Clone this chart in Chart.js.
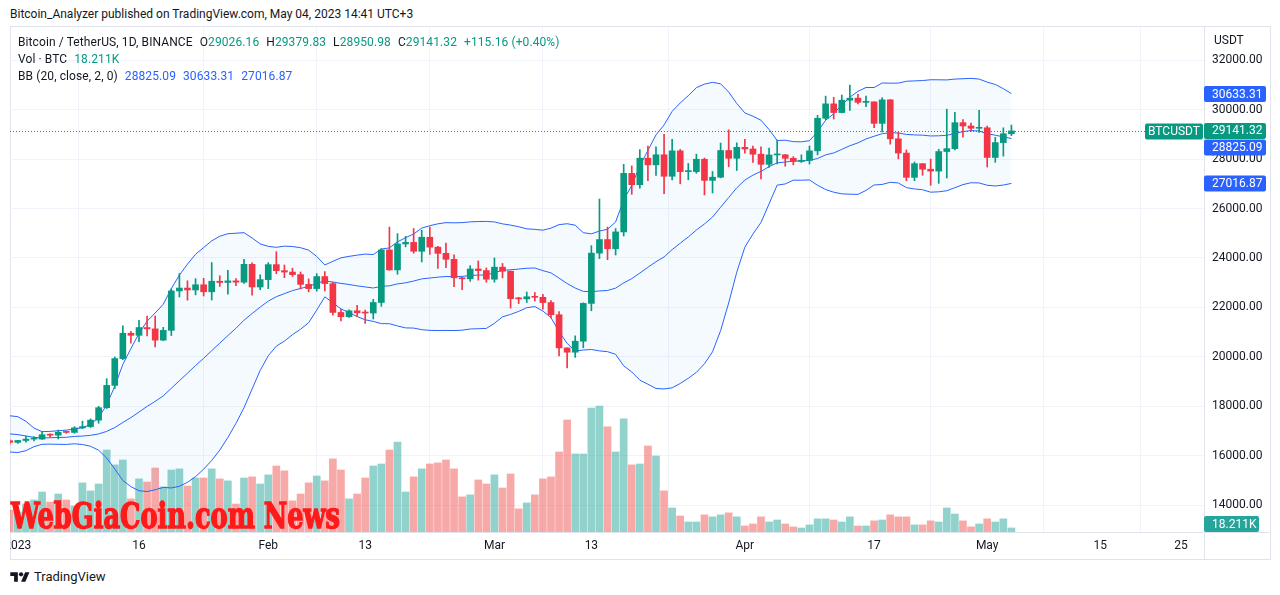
<!DOCTYPE html>
<html>
<head>
<meta charset="utf-8">
<script src="https://cdn.jsdelivr.net/npm/chart.js@4.4.1/dist/chart.umd.min.js"></script>
<style>
  body { margin: 0; width: 1280px; height: 595px; background: #fff; position: relative; overflow: hidden;
         font-family: Roboto, "Noto Sans", sans-serif; color: #131722; }
  #hdr { position: absolute; left: 10px; top: 6px; font-size: 12px; line-height: 16px; white-space: nowrap; }
  #frame { position: absolute; left: 10px; top: 26px; width: 1259px; height: 532px; border: 1px solid #E0E3EB; }
  #wrap { position: absolute; left: 10px; top: 27px; width: 1260px; height: 532px; }
  .lg { position: absolute; left: 18px; font-size: 12px; line-height: 14px; white-space: nowrap; letter-spacing: 0.1px; }
  .lg span { margin-left: 7px; }
  .lg span:first-child { margin-left: 0; }
  .lg b { font-weight: normal; }
  .g { color: #089981; }
  .b { color: #2962FF; }
  #wm { position: absolute; left: 10px; top: 496px; }
  #tv { position: absolute; left: 10px; top: 569px; font-size: 13px; line-height: 16px; display: flex; align-items: center; }
  #tv svg { margin-right: 4px; }
</style>
</head>
<body>
<div id="hdr">Bitcoin_Analyzer published on TradingView.com, May 04, 2023 14:41 UTC+3</div>
<div id="frame"></div>
<div id="wrap"><canvas id="c" width="1260" height="532"></canvas></div>

<div class="lg" style="top:35px">
  <span>Bitcoin / TetherUS, 1D, BINANCE</span><span>O<b class="g">29026.16</b></span><span>H<b class="g">29379.83</b></span><span>L<b class="g">28950.98</b></span><span>C<b class="g">29141.32</b></span><span class="g">+115.16 (+0.40%)</span>
</div>
<div class="lg" style="top:52px"><span>Vol · BTC</span><span class="g">18.211K</span></div>
<div class="lg" style="top:69px"><span>BB (20, close, 2, 0)</span><span class="b">28825.09</span><span class="b">30633.31</span><span class="b">27016.87</span></div>

<svg id="wm" width="334" height="40">
  <text x="1" y="32" textLength="329" lengthAdjust="spacingAndGlyphs" fill="#FF1A1A" stroke="#FF1A1A" stroke-width="1.4"
        style="font-family:'DejaVu Serif Condensed','DejaVu Serif',serif;font-weight:bold;font-size:35px">WebGiaCoin.com News</text>
</svg>

<div id="tv">
  <svg width="20" height="14" viewBox="0 0 36 26"><path d="M14 22H7V11H0V4h14v18z" fill="#131722"/><circle cx="20" cy="8" r="4" fill="#131722"/><path d="M28 22h-8l7.5-18h8L28 22z" fill="#131722"/></svg>
  <span>TradingView</span>
</div>

<script>
// daily candles from 2022-12-31 to 2023-05-04, BTCUSDT Binance
const firstDate = Date.UTC(2022, 11, 31);
const dayZero = Date.UTC(2023, 0, 1);

const openP = [16607,
  16542,16617,16673,16674,16852,16832,16950,16944,17127,17179,17440,17944,18847,19930,20955,20872,21186,21133,20677,21072,22667,22784,22707,22917,22633,23060,23010,23075,23023,23743,22827,
  23125,23732,23489,23431,23327,22933,22763,23249,22964,21797,21626,21863,21783,21773,22200,24325,23518,24569,24631,24272,24839,24439,24188,23947,23198,23158,23555,23492,
  23141,23628,23466,22354,22347,22430,22410,22197,21705,20363,20188,20633,22163,24197,24746,24375,25055,27423,26965,28038,27768,28176,27307,28334,27494,27495,27994,27140,27268,28348,28033,
  28478,28411,28199,27790,28169,28175,28033,27906,27948,28334,29653,30236,29884,30384,30466,30297,30316,29446,30398,28822,28245,27263,27817,27591,27515,28307,28423,29474,29340,29248,
  29268,28068,28669,29026.16];
const highP = [16644,
  16628,16799,16779,16990,16884,17041,16999,17176,17398,17490,18000,19117,19997,21258,21030,21474,21647,21650,21192,22755,23372,23078,23165,23180,23816,23282,23500,23165,23950,23800,23320,
  23812,24255,23715,23587,23433,23158,23367,23452,23012,21938,21906,22090,21894,22326,24380,25250,24987,24877,25192,25121,25250,24476,24600,24132,23219,23689,23880,23600,
  24000,23779,23476,22410,22623,22604,22534,22278,21833,20367,20850,22185,24500,26386,25250,25188,27787,27725,28390,28528,28500,29000,28800,28392,27823,28200,28044,27500,28650,29184,28660,
  28805,28530,28500,28444,28775,28190,28100,28173,28530,29770,30550,30500,30595,31000,30619,30549,30320,30485,30412,29090,28374,27884,27820,28000,28399,30020,29892,29599,29460,29969,
  29338,28879,29266,29379.83];
const lowP = [16470,
  16500,16548,16601,16656,16753,16679,16908,16911,17095,17142,17315,17910,18715,19888,20552,20611,20850,20407,20659,20862,22422,22293,22508,22463,22300,22850,22534,22878,22976,22500,22714,
  22760,23363,23204,23253,22745,22628,22658,22665,21688,21451,21599,21631,21352,21531,22047,23505,23340,24450,24192,23840,24148,23574,23608,22841,22722,23059,23106,23020,
  23020,23195,21971,22157,22199,22258,21927,21580,20042,19549,19980,20366,21864,23976,23930,24122,24890,26578,26827,27126,27337,26600,27155,27000,27163,27426,26550,26631,27241,27689,27540,
  28240,27865,27204,27667,27805,27711,27766,27865,27800,28170,29590,29622,29870,29967,30229,30120,29275,29100,28605,28010,27125,27130,27348,26942,27020,27235,28375,28891,29125,29080,
  27680,27872,28120,28950.98];
const closeP = [16542,
  16617,16673,16675,16851,16832,16950,16944,17127,17179,17440,17944,18847,19930,20955,20872,21186,21133,20677,21072,22667,22784,22707,22917,22633,23060,23010,23075,23023,23743,22827,23125,
  23732,23489,23431,23327,22933,22762,23249,22964,21797,21626,21863,21783,21773,22200,24325,23518,24569,24631,24272,24839,24439,24188,23947,23198,23158,23555,23492,23141,
  23628,23466,22354,22347,22430,22410,22197,21705,20363,20188,20633,22163,24197,24746,24375,25055,27423,26965,28038,27768,28176,27307,28334,27494,27495,27994,27140,27268,28348,28033,28478,
  28411,28199,27790,28169,28175,28033,27906,27948,28334,29653,30236,29884,30384,30466,30297,30316,29446,30398,28822,28245,27263,27817,27591,27515,28307,28423,29474,29340,29248,29268,
  28068,28669,29026,29141.32];
// volume in thousands of BTC
const volumeK = [99,
  90,126,144,180,135,171,144,117,221,185,216,369,302,324,149,239,225,288,203,279,284,207,243,243,284,239,230,126,243,248,216,
  257,297,275,140,171,221,252,230,329,279,149,171,243,297,306,369,405,180,248,284,306,311,324,284,158,167,234,216,
  257,198,261,104,131,167,239,248,360,504,351,351,558,567,473,360,509,302,306,387,342,185,108,72,45,45,77,68,77,86,68,
  27,36,68,45,54,36,23,18,32,59,59,54,45,68,27,27,50,54,77,68,68,32,32,50,45,108,81,50,23,36,
  59,45,59,18.211];
// closes 2022-12-11 .. 2022-12-30, needed for the first 20-day bands
const warmupClose = [17092,17206,17775,17803,17356,16633,16776,16739,16439,16906,16817,16830,16779,16837,16832,16919,16707,16547,16633,16608];

const bbLast = [28825.09, 30633.31, 27016.87];   // basis, upper, lower shown in legend
const lastVolK = 18.211;

const xTickDays = [0, 15, 31, 43, 59, 71, 90, 106, 120, 134, 144];
const xTickLabels = ['2023', '16', 'Feb', '13', 'Mar', '13', 'Apr', '17', 'May', '15', '25'];
const priceTicks = [14000, 16000, 18000, 20000, 22000, 24000, 26000, 28000, 30000, 32000];

const upColor = '#089981', downColor = '#F23645', bandColor = '#2962FF';
const FONT = 'Roboto, "Noto Sans", sans-serif';

const days = openP.map((_, i) => (firstDate + i * 86400000 - dayZero) / 86400000);
const isUp = closeP.map((c, i) => c >= openP[i]);

// Bollinger bands (20, close, 2)
const allClose = warmupClose.concat(closeP);
const bbBasis = [], bbUpper = [], bbLower = [];
for (let i = 19; i < allClose.length; i++) {
    const w = allClose.slice(i - 19, i + 1);
    const m = w.reduce((s, v) => s + v, 0) / 20;
    const sd = Math.sqrt(w.reduce((s, v) => s + (v - m) * (v - m), 0) / 20);
    const x = days[0] + (i - warmupClose.length);
    bbBasis.push({ x, y: m });
    bbUpper.push({ x, y: m + 2 * sd });
    bbLower.push({ x, y: m - 2 * sd });
}

function badge(ctx, x, yc, w, color, text, center) {
    ctx.fillStyle = color;
    ctx.beginPath();
    ctx.roundRect(x, yc - 8, w, 16, 2);
    ctx.fill();
    ctx.fillStyle = '#fff';
    ctx.textBaseline = 'middle';
    ctx.textAlign = center ? 'center' : 'left';
    ctx.fillText(text, center ? x + w / 2 : x + 8, yc + 0.5);
}

const overlay = {
    id: 'overlay',
    afterDraw(chart) {
        const { ctx, chartArea: a, scales: { y, yv } } = chart;
        ctx.save();
        ctx.font = '12px ' + FONT;
        // axis separators running into the corner
        ctx.strokeStyle = '#E0E3EB';
        ctx.lineWidth = 1;
        ctx.beginPath();
        ctx.moveTo(a.right + 0.5, a.top);
        ctx.lineTo(a.right + 0.5, chart.height);
        ctx.moveTo(a.right, a.bottom + 0.5);
        ctx.lineTo(chart.width, a.bottom + 0.5);
        ctx.stroke();

        // last price dotted line
        const last = closeP[closeP.length - 1];
        const py = Math.round(y.getPixelForValue(last)) + 0.5;
        ctx.strokeStyle = upColor;
        ctx.setLineDash([1, 2]);
        ctx.beginPath();
        ctx.moveTo(a.left, py);
        ctx.lineTo(a.right, py);
        ctx.stroke();
        ctx.setLineDash([]);

        // unit label
        ctx.fillStyle = '#131722';
        ctx.textBaseline = 'middle';
        ctx.textAlign = 'left';
        ctx.fillText('USDT', a.right + 10, 14);

        // price badges, pushed apart so they don't overlap
        const items = [
            { v: bbLast[1], c: bandColor },
            { v: last, c: upColor },
            { v: bbLast[0], c: bandColor },
            { v: bbLast[2], c: bandColor }
        ].map(o => ({ ...o, y: y.getPixelForValue(o.v) })).sort((p, q) => p.y - q.y);
        for (let i = 1; i < items.length; i++) {
            if (items[i].y - items[i - 1].y < 16.6) items[i].y = items[i - 1].y + 16.6;
        }
        items.forEach(o => badge(ctx, a.right, o.y, 62, o.c, o.v.toFixed(2)));
        badge(ctx, a.right - 59, py, 58, upColor, 'BTCUSDT', true);

        // volume badge
        const vy = Math.min(yv.getPixelForValue(lastVolK), a.bottom - 8);
        badge(ctx, a.right, vy, 55, '#26A69A', lastVolK.toFixed(3) + 'K');
        ctx.restore();
    }
};

Chart.defaults.font.family = FONT;

new Chart(document.getElementById('c'), {
    type: 'bar',
    data: {
        datasets: [
            {
                type: 'bar',
                data: days.map((d, i) => ({ x: d, y: [openP[i], closeP[i]] })),
                backgroundColor: isUp.map(u => u ? upColor : downColor),
                barThickness: 6,
                minBarLength: 1,
                grouped: false,
                yAxisID: 'y',
                order: 0
            },
            {
                type: 'bar',
                data: days.map((d, i) => ({ x: d, y: [lowP[i], highP[i]] })),
                backgroundColor: isUp.map(u => u ? upColor : downColor),
                barThickness: 1,
                grouped: false,
                yAxisID: 'y',
                order: 1
            },
            {
                type: 'line',
                data: bbUpper,
                borderColor: bandColor,
                borderWidth: 1,
                pointRadius: 0,
                tension: 0,
                fill: '+1',
                backgroundColor: 'rgba(33, 150, 243, 0.05)',
                yAxisID: 'y',
                order: 2
            },
            {
                type: 'line',
                data: bbLower,
                borderColor: bandColor,
                borderWidth: 1,
                pointRadius: 0,
                tension: 0,
                fill: false,
                yAxisID: 'y',
                order: 3
            },
            {
                type: 'line',
                data: bbBasis,
                borderColor: bandColor,
                borderWidth: 1,
                pointRadius: 0,
                tension: 0,
                fill: false,
                yAxisID: 'y',
                order: 4
            },
            {
                type: 'bar',
                data: days.map((d, i) => ({ x: d, y: volumeK[i] })),
                backgroundColor: isUp.map(u => u ? 'rgba(38, 166, 154, 0.5)' : 'rgba(239, 83, 80, 0.5)'),
                barThickness: 7,
                grouped: false,
                yAxisID: 'yv',
                order: 5
            }
        ]
    },
    options: {
        responsive: false,
        animation: false,
        events: [],
        layout: { padding: 0 },
        plugins: { legend: { display: false }, tooltip: { enabled: false } },
        scales: {
            x: {
                type: 'linear',
                min: -0.97,
                max: 146.84,
                offset: false,
                grid: { color: '#F0F3FA', drawTicks: false },
                border: { color: '#E0E3EB' },
                ticks: {
                    padding: 7,
                    color: '#131722',
                    font: { size: 12 },
                    maxRotation: 0,
                    autoSkip: false,
                    callback: v => {
                        const k = xTickDays.indexOf(v);
                        return k >= 0 ? xTickLabels[k] : '';
                    }
                },
                afterBuildTicks: s => { s.ticks = xTickDays.map(v => ({ value: v })); },
                afterFit: s => { s.height = 27; s.paddingLeft = 0; s.paddingRight = 0; }
            },
            y: {
                position: 'right',
                min: 12915,
                max: 33345,
                grid: { color: '#F0F3FA', drawTicks: false },
                border: { color: '#E0E3EB' },
                ticks: {
                    padding: 8,
                    color: '#131722',
                    font: { size: 12 },
                    callback: v => v.toFixed(2)
                },
                afterBuildTicks: s => { s.ticks = priceTicks.map(v => ({ value: v })); },
                afterFit: s => { s.width = 66; s.paddingTop = 0; s.paddingBottom = 0; }
            },
            yv: { display: false, min: 0, max: 2272 }
        }
    },
    plugins: [overlay]
});
</script>
</body>
</html>
